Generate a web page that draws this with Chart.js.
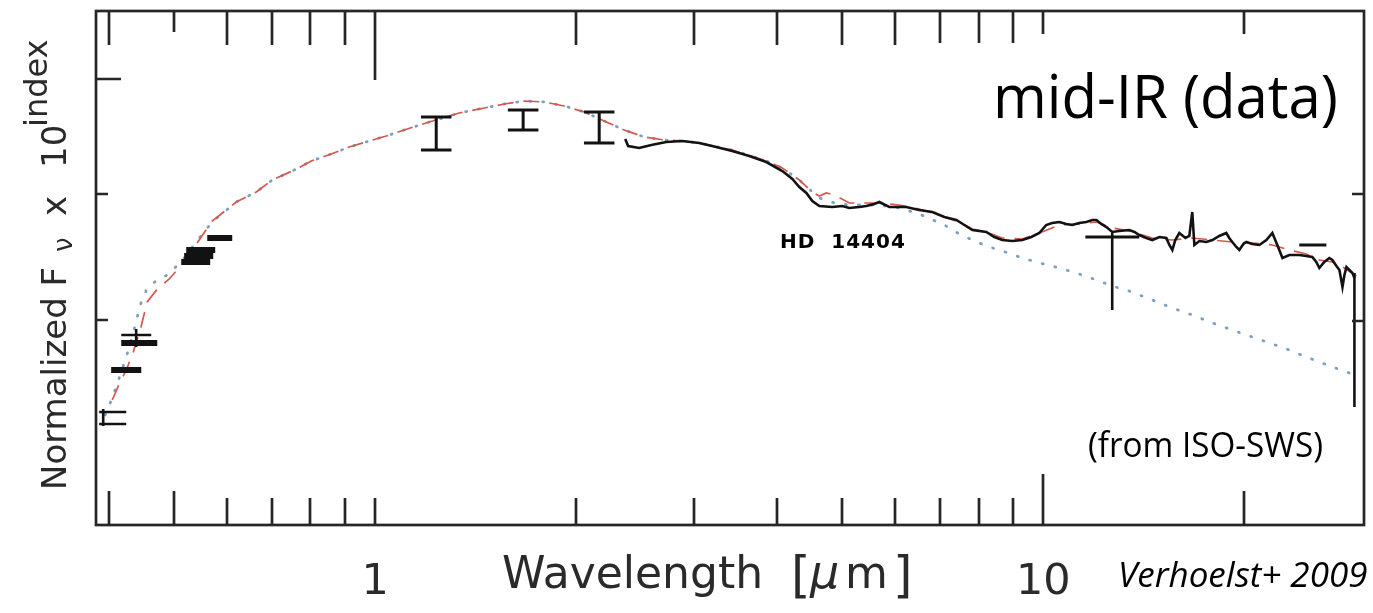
<!doctype html>
<html lang="en">
<head>
<meta charset="utf-8">
<title>HD 14404 - SED with ISO-SWS spectrum</title>
<style>
  * { margin: 0; padding: 0; }
  body { background: #fff; }
  #sed { display: block; }
</style>
</head>
<body>
<canvas id="sed" width="1373" height="613"></canvas>
<script src="https://cdn.jsdelivr.net/npm/chart.js"></script>
<script>
// ISO-SWS spectrum (wavelength in micron, log normalized flux)
const specWave = [2.367, 2.391, 2.484, 2.590, 2.727, 2.882, 3.055, 3.239, 3.423, 3.630,
  3.849, 4.068, 4.211, 4.313, 4.419, 4.511, 4.621, 4.832, 5.002, 5.124,
  5.304, 5.433, 5.585, 5.682, 5.882, 6.085, 6.234, 6.520, 6.822, 7.110,
  7.411, 7.617, 7.832, 8.215, 8.446, 8.683, 8.987, 9.303, 9.594, 9.863,
  10.10, 10.31, 10.57, 10.82, 11.05, 11.32, 11.60, 11.84, 12.01, 12.21,
  12.43, 12.68, 12.99, 13.45, 13.69, 13.92, 14.26, 14.56, 14.92, 15.28,
  15.44, 15.60, 15.76, 15.98, 16.32, 16.54, 16.71, 16.83, 17.12, 17.54,
  17.91, 18.34, 18.79, 18.98, 19.18, 19.45, 19.65, 19.93, 20.13, 20.55,
  21.06, 21.57, 22.02, 22.40, 22.80, 23.35, 24.16, 24.75, 25.27, 25.62,
  25.89, 26.34, 26.80, 27.08, 27.46, 27.75, 28.04, 28.23, 28.43, 28.72,
  29.02, 29.22];
const specFlux = [3.86, 3.79, 3.77, 3.80, 3.83, 3.84, 3.82, 3.78, 3.74, 3.69,
  3.63, 3.54, 3.46, 3.38, 3.32, 3.24, 3.19, 3.18, 3.19, 3.17,
  3.18, 3.19, 3.21, 3.23, 3.18, 3.18, 3.18, 3.15, 3.13, 3.08,
  3.05, 3.00, 2.95, 2.93, 2.88, 2.85, 2.84, 2.85, 2.88, 2.92,
  3.00, 3.02, 3.03, 3.01, 3.00, 3.02, 3.03, 3.05, 3.05, 3.01,
  2.98, 2.93, 2.94, 2.95, 2.93, 2.90, 2.87, 2.85, 2.88, 2.87,
  2.80, 2.75, 2.85, 2.92, 2.87, 2.89, 3.13, 2.80, 2.84, 2.83,
  2.85, 2.89, 2.92, 2.87, 2.83, 2.78, 2.75, 2.81, 2.83, 2.81,
  2.80, 2.85, 2.92, 2.80, 2.67, 2.70, 2.70, 2.69, 2.68, 2.63,
  2.57, 2.63, 2.67, 2.65, 2.59, 2.55, 2.38, 2.50, 2.58, 2.55,
  2.52, 2.47];

// model grid: photosphere (blue dotted) and photosphere + dust (red dashed)
const modelWave = [0.3943, 0.4040, 0.4138, 0.4240, 0.4343, 0.4449, 0.4557, 0.4718, 0.4917, 0.5176,
  0.5452, 0.5702, 0.6194, 0.6637, 0.7012, 0.7565, 0.8022, 0.8592, 0.9142, 0.9795,
  1.0387, 1.1166, 1.2047, 1.3357, 1.4566, 1.5604, 1.6713, 1.7906, 1.9185, 2.0556,
  2.2019, 2.3588, 2.5274, 2.7079, 2.882, 3.055, 3.423, 3.849, 4.068, 4.313,
  4.511, 4.621, 4.733, 4.866, 5.124, 5.682, 6.085, 6.520, 7.110, 7.488,
  7.832, 8.215, 8.683, 9.303, 9.863, 10.57, 11.32, 12.01, 12.68, 13.45,
  14.56, 15.60, 16.71, 17.91, 19.18, 20.55, 22.02, 23.35, 24.75, 25.89,
  27.08, 28.23, 29.42];
const photModel = [1.10, 1.27, 1.47, 1.68, 1.92, 2.20, 2.37, 2.45, 2.51, 2.67,
  2.87, 3.03, 3.23, 3.33, 3.45, 3.55, 3.64, 3.71, 3.78, 3.84,
  3.89, 3.96, 4.03, 4.12, 4.17, 4.21, 4.24, 4.23, 4.19, 4.13,
  4.04, 3.95, 3.88, 3.85, 3.84, 3.82, 3.75, 3.64, 3.57, 3.45,
  3.33, 3.27, 3.25, 3.22, 3.20, 3.20, 3.17, 3.11, 3.00, 2.91,
  2.85, 2.79, 2.74, 2.67, 2.62, 2.57, 2.51, 2.45, 2.39, 2.34,
  2.25, 2.17, 2.10, 2.02, 1.95, 1.88, 1.81, 1.75, 1.68, 1.63,
  1.58, 1.54, 1.49];
const dustModel = [null, 1.25, 1.41, 1.55, 1.73, 1.95, 2.23, 2.36, 2.46, 2.63,
  2.85, 3.04, 3.23, 3.33, 3.45, 3.55, 3.64, 3.71, 3.78, 3.84,
  3.89, 3.96, 4.03, 4.12, 4.17, 4.21, 4.24, 4.23, 4.19, 4.13,
  4.04, 3.95, 3.88, 3.85, 3.84, 3.82, 3.75, 3.64, 3.57, 3.45,
  3.33, 3.29, 3.32, 3.30, 3.22, 3.22, 3.20, 3.16, 3.08, 3.03,
  2.96, 2.93, 2.87, 2.86, 2.92, 3.00, 3.01, 3.03, 2.97, 2.94,
  2.87, 2.85, 2.87, 2.85, 2.83, 2.82, 2.80, 2.75, 2.71, 2.65,
  2.63, 2.57, 2.49];

// optical photometry (filter ranges)
const barLo = [0.5605, 0.5213, 0.5176, 0.5124, 0.4167, 0.4025];
const barHi = [0.6109, 0.5761, 0.5722, 0.5662, 0.4718, 0.4465];
const barFlux = [2.87, 2.75, 2.69, 2.63, 1.82, 1.55];
const limLo = [0.4167, 0.3862, 0.3862];
const limHi = [0.4621, 0.4240, 0.4240];
const limFlux = [1.90, 1.13, 1.01];

// JHK with error bars
const jhkWave = [1.234, 1.665, 2.164];
const jhkLo = [3.75, 3.95, 3.82];
const jhkHi = [4.08, 4.15, 4.13];

// mid-IR photometry
const irLo = [11.56, 24.16];
const irHi = [13.92, 26.53];
const irFlux = [2.88, 2.80];

// plain vertical error bars
const vErrWave = [12.68, 29.22, 0.4387, 0.3916];
const vErrLo = [2.15, 1.18, 1.78, 0.99];
const vErrHi = [2.92, 2.52, 1.96, 1.16];

// axis ticks
const xTicks = [0.4, 0.5, 0.6, 0.7, 0.8, 0.9, 1, 2, 3, 4, 5, 6, 7, 8, 9, 10, 20];
const xLabels = [1, 10];
const yTicksLeft = [4.46, 3.31, 2.05];
const yTicksRight = [3.31, 2.04];

const black = '#121212';
const datasets = [];

function seg(x1, y1, x2, y2, width) {
  datasets.push({
    data: [{ x: x1, y: y1 }, { x: x2, y: y2 }],
    borderColor: black,
    borderWidth: width,
    order: 1
  });
}

datasets.push({
  data: specWave.map((w, i) => ({ x: w, y: specFlux[i] })),
  borderColor: black,
  borderWidth: 2.6,
  order: 1
});
datasets.push({
  data: modelWave.map((w, i) => ({ x: w, y: dustModel[i] })),
  borderColor: '#d4594d',
  borderWidth: 1.7,
  borderDash: [16, 10],
  order: 4
});
datasets.push({
  data: modelWave.map((w, i) => ({ x: w, y: photModel[i] })),
  borderColor: '#7f9fbe',
  borderWidth: 2.8,
  borderDash: [1, 12],
  borderCapStyle: 'round',
  order: 5
});

barLo.forEach((lo, i) => seg(lo, barFlux[i], barHi[i], barFlux[i], 6));
limLo.forEach((lo, i) => seg(lo, limFlux[i], limHi[i], limFlux[i], 2.5));
irLo.forEach((lo, i) => seg(lo, irFlux[i], irHi[i], irFlux[i], 3));
vErrWave.forEach((w, i) => seg(w, vErrLo[i], w, vErrHi[i], 2.6));

const capFactor = 1.054;
jhkWave.forEach((w, i) => {
  seg(w, jhkLo[i], w, jhkHi[i], 3);
  seg(w / capFactor, jhkLo[i], w * capFactor, jhkLo[i], 3);
  seg(w / capFactor, jhkHi[i], w * capFactor, jhkHi[i], 3);
});

// frame, inward ticks and text
const framePlugin = {
  id: 'frame',
  afterDraw(chart) {
    const { ctx, chartArea: a, scales: { x, y } } = chart;
    const topLen = [34, 21, 34, 34, 34, 34, 69, 34, 34, 34, 34, 34, 32, 32, 32, 23, 23];
    const botLen = [34, 34, 27, 27, 27, 27, 27, 27, 27, 27, 27, 27, 27, 27, 27, 51, 34];
    const leftLen = [25, 12, 12];

    ctx.save();
    ctx.strokeStyle = '#262626';
    ctx.lineWidth = 2.7;
    ctx.strokeRect(a.left, a.top, a.right - a.left, a.bottom - a.top);

    ctx.beginPath();
    xTicks.forEach((v, i) => {
      const px = Math.round(x.getPixelForValue(v));
      ctx.moveTo(px, a.top);
      ctx.lineTo(px, a.top + topLen[i]);
      ctx.moveTo(px, a.bottom);
      ctx.lineTo(px, a.bottom - botLen[i]);
    });
    yTicksLeft.forEach((v, i) => {
      const py = Math.round(y.getPixelForValue(v));
      ctx.moveTo(a.left, py);
      ctx.lineTo(a.left + leftLen[i], py);
    });
    yTicksRight.forEach(v => {
      const py = Math.round(y.getPixelForValue(v));
      ctx.moveTo(a.right, py);
      ctx.lineTo(a.right - 12, py);
    });
    ctx.stroke();

    // x tick labels
    ctx.fillStyle = '#2a2a2a';
    ctx.textAlign = 'center';
    ctx.textBaseline = 'alphabetic';
    ctx.font = '43px "DejaVu Sans"';
    xLabels.forEach(v => ctx.fillText(String(v), x.getPixelForValue(v), 594));

    // x title
    ctx.textAlign = 'left';
    ctx.font = '44px "DejaVu Sans"';
    ctx.fillText('Wavelength', 502, 588);
    ctx.font = '50px "DejaVu Sans"';
    ctx.fillText('[', 791, 592);
    ctx.fillText(']', 893, 592);
    ctx.font = 'italic 46px "DejaVu Sans"';
    ctx.fillText('μ', 810, 588);
    ctx.font = '44px "DejaVu Sans"';
    ctx.fillText('m', 845, 588);

    // y title
    ctx.save();
    ctx.translate(66, 0);
    ctx.rotate(-Math.PI / 2);
    ctx.font = '34px "DejaVu Sans"';
    ctx.fillText('Normalized F', -490, 0);
    ctx.font = '26px "DejaVu Sans"';
    ctx.fillText('ν', -252, 6);
    ctx.font = '34px "DejaVu Sans"';
    ctx.fillText('x', -216, 0);
    ctx.fillText('10', -168, 0);
    ctx.font = '32px "DejaVu Sans"';
    ctx.fillText('index', -127, -19);
    ctx.restore();

    // annotations
    ctx.fillStyle = '#000';
    ctx.font = 'bold 20px "DejaVu Sans"';
    ctx.letterSpacing = '1px';
    ctx.fillText('HD  14404', 780, 248);
    ctx.letterSpacing = '0px';

    ctx.font = '60px "Open Sans"';
    ctx.fillText('mid-IR (data)', 993, 118, 345);
    ctx.font = '35px "Open Sans"';
    ctx.fillText('(from ISO-SWS)', 1088, 457, 235);
    ctx.font = 'italic 35px "Open Sans"';
    ctx.fillText('Verhoelst+ 2009', 1118, 587, 250);
    ctx.restore();
  }
};

const config = {
  type: 'line',
  data: { datasets },
  options: {
    responsive: false,
    animation: false,
    events: [],
    layout: { padding: { left: 96, top: 11, right: 9, bottom: 88 } },
    elements: { point: { radius: 0 }, line: { tension: 0 } },
    plugins: { legend: { display: false }, tooltip: { enabled: false } },
    scales: {
      x: { type: 'logarithmic', min: 0.382, max: 30.2, display: false },
      y: { type: 'linear', min: 0, max: 5.14, display: false }
    }
  },
  plugins: [framePlugin]
};

const sedChart = new Chart(document.getElementById('sed'), config);
</script>
</body>
</html>
